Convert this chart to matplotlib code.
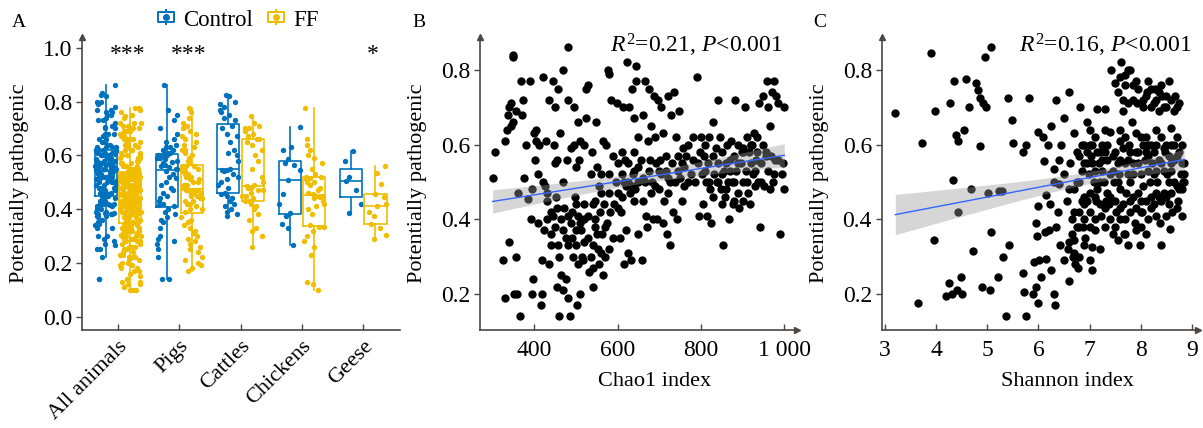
import matplotlib
matplotlib.use('Agg')
import matplotlib.pyplot as plt
import numpy as np
from matplotlib.path import Path
from matplotlib.lines import Line2D

# fonts ---------------------------------------------------------------
plt.rcParams['font.family'] = ['Liberation Serif', 'DejaVu Serif']
plt.rcParams['mathtext.fontset'] = 'custom'
plt.rcParams['mathtext.rm'] = 'Liberation Serif'
plt.rcParams['mathtext.it'] = 'Liberation Serif:italic'
plt.rcParams['font.size'] = 16

AXC = '#4d4545'
BLUE = '#0072BD'
GOLD = '#F0BD00'

# data panel A ---------------------------------------------------------
categories = ['All animals', 'Pigs', 'Cattles', 'Chickens', 'Geese']

pigs_ctrl = [0.86, 0.77, 0.75, 0.73, 0.70, 0.68, 0.66, 0.65, 0.64, 0.63, 0.63, 0.62, 0.62, 0.61, 0.61,
             0.605, 0.60, 0.60, 0.60, 0.59, 0.59, 0.585, 0.58, 0.575, 0.57, 0.565, 0.56, 0.555, 0.55, 0.55,
             0.54, 0.53, 0.52, 0.515, 0.50, 0.49, 0.48, 0.47, 0.46, 0.45, 0.44, 0.43, 0.42, 0.415, 0.41,
             0.40, 0.39, 0.38, 0.37, 0.36, 0.35, 0.33, 0.30, 0.29, 0.28, 0.27, 0.25, 0.22, 0.14, 0.14]
pigs_ff = [0.17, 0.18, 0.19, 0.20, 0.21, 0.22, 0.24, 0.25, 0.26, 0.27,
           0.28, 0.29, 0.30, 0.31, 0.32, 0.33, 0.34, 0.35, 0.36, 0.37,
           0.39, 0.40, 0.40, 0.41, 0.42, 0.42, 0.43, 0.43, 0.44, 0.44,
           0.45, 0.45, 0.46, 0.46, 0.46, 0.47, 0.47, 0.47, 0.47, 0.47,
           0.48, 0.48, 0.49, 0.49, 0.50, 0.50, 0.51, 0.51, 0.52, 0.52,
           0.53, 0.53, 0.54, 0.54, 0.55, 0.55, 0.56, 0.56, 0.56, 0.56,
           0.57, 0.58, 0.59, 0.60, 0.61, 0.62, 0.62, 0.63, 0.64, 0.65,
           0.66, 0.67, 0.68, 0.69, 0.70, 0.71, 0.72, 0.74, 0.76, 0.775]
cattle_ctrl = [0.375, 0.38, 0.39, 0.40, 0.41, 0.42, 0.43, 0.44, 0.45, 0.455,
               0.46, 0.48, 0.49, 0.50, 0.51, 0.52, 0.53, 0.54, 0.545, 0.545,
               0.55, 0.58, 0.60, 0.61, 0.62, 0.65, 0.67, 0.68, 0.70, 0.71,
               0.73, 0.74, 0.75, 0.76, 0.77, 0.78, 0.79, 0.80, 0.82, 0.825]
cattle_ff = [0.26, 0.30, 0.32, 0.33, 0.36, 0.38, 0.40, 0.41, 0.42, 0.43,
             0.43, 0.44, 0.45, 0.45, 0.46, 0.47, 0.47, 0.48, 0.48, 0.485,
             0.49, 0.50, 0.52, 0.55, 0.58, 0.60, 0.62, 0.64, 0.65, 0.66,
             0.66, 0.67, 0.68, 0.69, 0.69, 0.70, 0.70, 0.71, 0.72, 0.745]
chicken_ctrl = [0.265, 0.33, 0.345, 0.375, 0.385, 0.42, 0.455, 0.508, 0.545, 0.565,
                0.57, 0.585, 0.62, 0.63, 0.705]
chicken_ff = [0.10, 0.12, 0.13, 0.23, 0.26, 0.28, 0.30, 0.32, 0.335, 0.335,
              0.34, 0.38, 0.40, 0.41, 0.42, 0.43, 0.44, 0.445, 0.45, 0.45,
              0.455, 0.46, 0.47, 0.48, 0.49, 0.50, 0.50, 0.51, 0.515, 0.52,
              0.52, 0.53, 0.55, 0.57, 0.59, 0.60, 0.62, 0.64, 0.66, 0.775]
geese_ctrl = [0.385, 0.42, 0.47, 0.505, 0.52, 0.578, 0.617]
geese_ff = [0.29, 0.305, 0.33, 0.345, 0.375, 0.39, 0.41, 0.42, 0.445, 0.455, 0.495, 0.535, 0.56]
# samples from other animals, only in "All animals"
other_ctrl = [0.30, 0.34, 0.38, 0.45, 0.46, 0.47, 0.48, 0.49, 0.50, 0.50, 0.51, 0.52, 0.52, 0.53,
              0.53, 0.54, 0.54, 0.55, 0.55, 0.56, 0.56, 0.57, 0.57, 0.58, 0.58, 0.59, 0.60, 0.61,
              0.62, 0.63, 0.64, 0.66, 0.68, 0.72, 0.76, 0.80, 0.83, 0.48, 0.45, 0.25]
other_ff = [0.10, 0.10, 0.11, 0.12, 0.13, 0.14, 0.15, 0.16, 0.17, 0.18, 0.19, 0.20, 0.21, 0.22, 0.22,
            0.23, 0.24, 0.25, 0.26, 0.27, 0.28, 0.29, 0.30, 0.30, 0.31, 0.32, 0.32, 0.33, 0.34, 0.34,
            0.35, 0.35, 0.36, 0.36, 0.36, 0.37, 0.37, 0.37, 0.38, 0.38, 0.38, 0.39, 0.39, 0.39, 0.40,
            0.40, 0.40, 0.40, 0.41, 0.41, 0.41, 0.42, 0.42, 0.42, 0.42, 0.43, 0.43, 0.43, 0.43, 0.44,
            0.44, 0.44, 0.44, 0.44, 0.45, 0.46, 0.47, 0.48, 0.49, 0.50, 0.50, 0.51, 0.52, 0.52,
            0.53, 0.53, 0.535, 0.535, 0.55, 0.57, 0.59, 0.61, 0.63, 0.65, 0.67, 0.69, 0.70, 0.72,
            0.75, 0.77]

stars = [(0, '***'), (1, '***'), (4, '*')]

# data panel B (Chao1, potentially pathogenic) ---------------------------
chao1_pts = [
    (300, 0.51), (305, 0.58), (325, 0.29), (330, 0.19), (340, 0.34), (330, 0.61), (335, 0.64), (340, 0.70),
    (345, 0.71), (338, 0.68), (350, 0.66), (355, 0.69), (345, 0.65), (348, 0.84), (350, 0.835), (352, 0.20),
    (355, 0.30), (358, 0.20), (360, 0.47), (365, 0.14), (368, 0.77), (370, 0.68), (372, 0.72), (375, 0.51),
    (380, 0.60), (385, 0.455), (390, 0.77), (395, 0.48), (393, 0.40), (395, 0.20), (396, 0.24), (400, 0.63),
    (402, 0.56), (405, 0.64), (405, 0.61), (410, 0.39), (410, 0.52), (412, 0.60), (415, 0.17), (418, 0.29),
    (418, 0.20), (420, 0.78), (420, 0.50), (423, 0.37), (425, 0.49), (428, 0.61), (430, 0.47), (430, 0.45),
    (435, 0.28), (435, 0.72), (440, 0.36), (440, 0.42), (445, 0.41), (445, 0.77), (448, 0.60), (450, 0.70),
    (450, 0.55), (452, 0.46), (455, 0.56), (455, 0.22), (458, 0.33), (458, 0.75), (460, 0.14), (462, 0.63),
    (465, 0.40), (465, 0.25), (468, 0.21), (468, 0.50), (470, 0.80), (472, 0.43), (475, 0.35), (475, 0.24),
    (478, 0.56), (480, 0.72), (482, 0.86), (482, 0.19), (485, 0.14), (488, 0.39), (488, 0.59), (490, 0.42),
    (492, 0.30), (495, 0.60), (495, 0.70), (498, 0.46), (500, 0.33), (500, 0.54), (502, 0.17), (505, 0.66),
    (505, 0.41), (508, 0.56), (510, 0.20), (510, 0.61), (512, 0.37), (515, 0.30), (518, 0.29), (520, 0.44),
    (520, 0.60), (525, 0.75), (525, 0.67), (528, 0.35), (530, 0.76), (532, 0.26), (535, 0.52), (538, 0.58),
    (540, 0.22), (542, 0.27), (545, 0.45), (545, 0.38), (548, 0.66), (550, 0.54), (552, 0.32), (555, 0.28),
    (555, 0.49), (558, 0.42), (560, 0.52), (562, 0.36), (565, 0.25), (565, 0.61), (568, 0.44), (570, 0.30),
    (572, 0.60), (575, 0.39), (578, 0.80), (580, 0.79), (580, 0.47), (582, 0.42), (585, 0.72), (588, 0.57),
    (590, 0.35), (592, 0.44), (595, 0.50), (598, 0.71), (600, 0.47), (600, 0.55), (605, 0.35), (608, 0.42),
    (610, 0.46), (612, 0.70), (615, 0.28), (615, 0.50), (618, 0.56), (620, 0.37), (622, 0.82), (625, 0.31),
    (625, 0.50), (628, 0.70), (630, 0.47), (632, 0.29), (635, 0.75), (638, 0.52), (640, 0.67), (642, 0.48),
    (645, 0.81), (645, 0.77), (648, 0.62), (650, 0.36), (650, 0.50), (655, 0.56), (658, 0.29), (660, 0.45),
    (662, 0.68), (665, 0.77), (668, 0.41), (670, 0.38), (672, 0.61), (675, 0.75), (678, 0.56), (680, 0.65),
    (682, 0.50), (685, 0.40), (688, 0.73), (690, 0.62), (692, 0.55), (695, 0.40), (698, 0.72), (700, 0.48),
    (702, 0.56), (705, 0.70), (708, 0.39), (710, 0.63), (712, 0.45), (715, 0.53), (718, 0.36), (720, 0.73),
    (722, 0.47), (725, 0.33), (728, 0.68), (730, 0.55), (732, 0.42), (735, 0.74), (738, 0.50), (740, 0.62),
    (742, 0.40), (745, 0.57), (748, 0.69), (750, 0.51), (755, 0.45), (758, 0.59), (760, 0.54), (765, 0.57),
    (770, 0.60), (775, 0.52), (780, 0.62), (785, 0.50), (790, 0.78), (792, 0.55), (795, 0.41), (798, 0.58),
    (800, 0.62), (802, 0.52), (805, 0.44), (808, 0.57), (810, 0.60), (812, 0.50), (815, 0.41), (818, 0.55),
    (820, 0.62), (822, 0.48), (825, 0.39), (828, 0.57), (830, 0.66), (832, 0.52), (835, 0.59), (838, 0.50),
    (840, 0.72), (842, 0.55), (845, 0.62), (848, 0.48), (850, 0.58), (852, 0.33), (855, 0.53), (858, 0.46),
    (860, 0.55), (862, 0.60), (865, 0.50), (868, 0.40), (870, 0.56), (872, 0.61), (875, 0.50), (878, 0.44),
    (880, 0.57), (882, 0.72), (885, 0.53), (888, 0.47), (890, 0.60), (892, 0.43), (895, 0.55), (898, 0.58),
    (900, 0.50), (902, 0.45), (905, 0.70), (908, 0.53), (910, 0.62), (912, 0.47), (915, 0.58), (918, 0.44),
    (920, 0.55), (922, 0.60), (925, 0.52), (928, 0.63), (930, 0.49), (932, 0.56), (935, 0.62), (938, 0.50),
    (940, 0.71), (942, 0.38), (945, 0.55), (948, 0.60), (950, 0.73), (952, 0.49), (955, 0.57), (958, 0.77),
    (960, 0.70), (962, 0.53), (965, 0.65), (968, 0.57), (970, 0.74), (972, 0.50), (975, 0.77), (978, 0.56),
    (980, 0.73), (985, 0.71), (990, 0.36), (995, 0.52), (998, 0.55), (1000, 0.48), (1000, 0.70),
    (620, 0.49), (640, 0.53), (660, 0.51), (680, 0.47), (700, 0.53), (720, 0.51), (760, 0.49), (780, 0.56),
    (640, 0.45), (600, 0.43), (580, 0.52), (560, 0.47), (540, 0.33), (520, 0.40), (500, 0.37), (480, 0.33),
    (440, 0.33), (450, 0.38), (460, 0.30), (470, 0.37), (480, 0.41), (490, 0.35), (500, 0.44), (510, 0.39),
    (520, 0.34), (530, 0.41), (540, 0.44), (550, 0.36), (560, 0.31), (570, 0.38), (580, 0.32), (430, 0.40),
    (455, 0.43), (505, 0.28), (535, 0.30), (545, 0.40),
    (610, 0.52), (625, 0.55), (635, 0.49), (650, 0.54), (665, 0.50), (675, 0.53), (690, 0.49), (705, 0.52),
    (715, 0.57), (725, 0.50), (745, 0.53), (755, 0.55), (770, 0.50), (640, 0.58), (610, 0.58),
    (810, 0.53), (820, 0.50), (830, 0.46), (840, 0.50), (850, 0.52), (860, 0.48), (870, 0.53), (880, 0.50),
    (890, 0.55), (900, 0.58), (910, 0.50), (920, 0.60), (930, 0.53), (945, 0.50), (955, 0.58), (965, 0.48),
    (975, 0.52), (985, 0.56), (880, 0.45), (900, 0.59), (920, 0.60), (850, 0.44), (935, 0.58),
]
chao1_xticklabels = ['400', '600', '800', '1 000']

# data panel C (Shannon, potentially pathogenic) -------------------------
shannon_pts = [
    (3.2, 0.685), (3.65, 0.175), (3.72, 0.605), (3.9, 0.845), (3.95, 0.345), (3.98, 0.69), (4.2, 0.195),
    (4.25, 0.23), (4.28, 0.71), (4.3, 0.20), (4.32, 0.505), (4.35, 0.77), (4.38, 0.625), (4.4, 0.21),
    (4.42, 0.61), (4.42, 0.42), (4.48, 0.245), (4.5, 0.20), (4.55, 0.64), (4.58, 0.775), (4.65, 0.70),
    (4.68, 0.48), (4.72, 0.315), (4.78, 0.765), (4.82, 0.745), (4.85, 0.725), (4.85, 0.595), (4.9, 0.22),
    (4.92, 0.71), (4.95, 0.835), (4.98, 0.70), (5.02, 0.47), (5.05, 0.21), (5.07, 0.86), (5.07, 0.365),
    (5.2, 0.245), (5.22, 0.475), (5.28, 0.475), (5.3, 0.30), (5.36, 0.14), (5.4, 0.725), (5.42, 0.33),
    (5.48, 0.665), (5.5, 0.605), (5.7, 0.58), (5.7, 0.255), (5.72, 0.205), (5.75, 0.60), (5.76, 0.14),
    (5.82, 0.725), (5.9, 0.20), (5.92, 0.285), (5.95, 0.39), (5.95, 0.22), (5.98, 0.355), (6.0, 0.175),
    (6.0, 0.435), (6.0, 0.635), (6.02, 0.29), (6.05, 0.245), (6.08, 0.62), (6.1, 0.555), (6.12, 0.365),
    (6.15, 0.465), (6.15, 0.295), (6.18, 0.60), (6.2, 0.37), (6.22, 0.44), (6.25, 0.265), (6.25, 0.65),
    (6.3, 0.535), (6.3, 0.20), (6.32, 0.17), (6.35, 0.38), (6.35, 0.72), (6.38, 0.42), (6.4, 0.495),
    (6.42, 0.33), (6.45, 0.60), (6.5, 0.29), (6.5, 0.67), (6.55, 0.45), (6.58, 0.32), (6.6, 0.235),
    (6.6, 0.74), (6.62, 0.55), (6.65, 0.40), (6.68, 0.30), (6.7, 0.345), (6.7, 0.63), (6.72, 0.28),
    (6.75, 0.50), (6.78, 0.27), (6.8, 0.57), (6.8, 0.42), (6.82, 0.70), (6.85, 0.53), (6.88, 0.38),
    (6.9, 0.60), (6.9, 0.46), (6.92, 0.35), (6.95, 0.66), (6.98, 0.52), (7.0, 0.42), (7.0, 0.29),
    (7.02, 0.57), (7.05, 0.265), (7.05, 0.325), (7.08, 0.50), (7.1, 0.37), (7.1, 0.62), (7.12, 0.45),
    (7.15, 0.695), (7.18, 0.55), (7.2, 0.32), (7.22, 0.41), (7.25, 0.60), (7.28, 0.50), (7.3, 0.695),
    (7.32, 0.45), (7.35, 0.56), (7.38, 0.44), (7.4, 0.635), (7.42, 0.80), (7.45, 0.36), (7.48, 0.50),
    (7.5, 0.765), (7.5, 0.58), (7.52, 0.42), (7.55, 0.345), (7.55, 0.74), (7.58, 0.52), (7.6, 0.61),
    (7.6, 0.40), (7.62, 0.82), (7.65, 0.69), (7.68, 0.36), (7.7, 0.55), (7.7, 0.785), (7.72, 0.47),
    (7.75, 0.71), (7.75, 0.33), (7.78, 0.60), (7.8, 0.80), (7.8, 0.42), (7.82, 0.66), (7.85, 0.52),
    (7.85, 0.76), (7.88, 0.39), (7.9, 0.58), (7.92, 0.71), (7.95, 0.47), (7.98, 0.33), (8.0, 0.62),
    (8.0, 0.52), (8.02, 0.42), (8.05, 0.72), (8.08, 0.56), (8.1, 0.45), (8.12, 0.74), (8.15, 0.60),
    (8.15, 0.40), (8.18, 0.50), (8.2, 0.70), (8.22, 0.55), (8.25, 0.44), (8.28, 0.75), (8.3, 0.60),
    (8.32, 0.50), (8.35, 0.69), (8.38, 0.39), (8.4, 0.33), (8.4, 0.55), (8.42, 0.73), (8.45, 0.47),
    (8.48, 0.58), (8.5, 0.70), (8.52, 0.52), (8.55, 0.77), (8.55, 0.44), (8.58, 0.375), (8.6, 0.645),
    (8.6, 0.55), (8.62, 0.42), (8.65, 0.50), (8.68, 0.73), (8.7, 0.57), (8.72, 0.45), (8.75, 0.71),
    (8.78, 0.52), (8.8, 0.41), (8.82, 0.50), (8.85, 0.52), (8.7, 0.49), (8.6, 0.53),
    (6.7, 0.48), (6.75, 0.58), (6.85, 0.45), (6.95, 0.55), (7.05, 0.60), (7.15, 0.48), (7.25, 0.53),
    (7.35, 0.47), (7.45, 0.57), (7.55, 0.50), (7.65, 0.44), (7.75, 0.56), (7.85, 0.46), (7.95, 0.55),
    (8.05, 0.49), (8.15, 0.53), (8.25, 0.58), (8.35, 0.46), (8.45, 0.53), (8.55, 0.50), (8.65, 0.56),
    (8.75, 0.48), (6.9, 0.40), (7.0, 0.47), (7.1, 0.53), (7.2, 0.58), (7.3, 0.43), (7.4, 0.40),
    (7.5, 0.45), (7.6, 0.56), (7.7, 0.40), (7.8, 0.50), (7.9, 0.43), (8.0, 0.45), (8.1, 0.58),
    (8.2, 0.46), (8.3, 0.41), (8.4, 0.62), (8.5, 0.46), (6.8, 0.50), (6.9, 0.55), (7.0, 0.60),
    (7.1, 0.40), (7.2, 0.50), (7.3, 0.58), (7.4, 0.52), (7.6, 0.48), (7.7, 0.62), (7.8, 0.58),
    (7.9, 0.63), (8.0, 0.38), (8.1, 0.62), (8.2, 0.60), (8.3, 0.53), (6.4, 0.56), (6.5, 0.52),
    (6.6, 0.48), (6.3, 0.50), (7.0, 0.64), (7.3, 0.64), (7.6, 0.64), (8.3, 0.64), (6.95, 0.45),
    (7.6, 0.78), (7.7, 0.76), (7.75, 0.80), (7.85, 0.72), (7.95, 0.75), (8.05, 0.70), (8.1, 0.73),
    (8.2, 0.75), (8.25, 0.71), (8.3, 0.72), (8.35, 0.74), (8.45, 0.70), (8.5, 0.73), (8.6, 0.72),
    (8.65, 0.69), (8.7, 0.70), (8.4, 0.76), (8.15, 0.77), (7.65, 0.72), (7.9, 0.77),
    (8.8, 0.55), (8.85, 0.50), (8.75, 0.58), (8.65, 0.60), (8.55, 0.57), (8.45, 0.59), (8.35, 0.56),
    (8.25, 0.52), (8.15, 0.57), (8.05, 0.60), (7.95, 0.58), (7.85, 0.55), (7.75, 0.52), (7.65, 0.59),
    (7.55, 0.55), (7.45, 0.53), (7.35, 0.60), (7.25, 0.56), (7.15, 0.58), (7.05, 0.55), (6.95, 0.58),
    (6.85, 0.60),
    (6.7, 0.42), (6.8, 0.38), (6.9, 0.44), (7.0, 0.38), (7.1, 0.46), (7.2, 0.44), (7.3, 0.38),
    (7.4, 0.46), (7.5, 0.38), (7.6, 0.43), (7.7, 0.36), (7.8, 0.45), (7.9, 0.37), (8.0, 0.42),
    (8.1, 0.36), (8.2, 0.43), (8.3, 0.47), (8.4, 0.45), (8.5, 0.41), (8.6, 0.47), (8.7, 0.43),
    (6.6, 0.34), (6.7, 0.31), (6.8, 0.30), (6.9, 0.33), (6.65, 0.36), (6.75, 0.38),
    (8.8, 0.60), (8.7, 0.62), (8.6, 0.60), (8.5, 0.60), (8.85, 0.55), (8.8, 0.48),
]

stat_b = r'$R^2$=0.21, $P$<0.001'
stat_c = r'$R^2$=0.16, $P$<0.001'


# helpers --------------------------------------------------------------
def style_axes(ax, x_arrow=True):
    for s in ['top', 'right']:
        ax.spines[s].set_visible(False)
    for s in ['left', 'bottom']:
        ax.spines[s].set_color(AXC)
        ax.spines[s].set_linewidth(1.2)
    ax.tick_params(axis='y', direction='out', length=4, width=1, color=AXC, pad=3, labelsize=17)
    ax.tick_params(axis='x', direction='in', length=4, width=1, color=AXC, pad=7, labelsize=17)
    ax.plot([0], [1], marker='^', ms=5, color=AXC, transform=ax.transAxes, clip_on=False)
    if x_arrow:
        ax.plot([1], [0], marker='>', ms=5, color=AXC, transform=ax.transAxes, clip_on=False)


def fit_band(x, y):
    xs = np.linspace(x.min(), x.max(), 100)
    b, a = np.polyfit(x, y, 1)
    n = len(x)
    resid = y - (a + b * x)
    s = np.sqrt(np.sum(resid ** 2) / (n - 2))
    sxx = np.sum((x - x.mean()) ** 2)
    se = s * np.sqrt(1 / n + (xs - x.mean()) ** 2 / sxx)
    fit = a + b * xs
    return xs, fit, fit - 1.97 * se, fit + 1.97 * se


def scatter_panel(ax, pts, stat_text, stat_x):
    arr = np.array(pts)
    x, y = arr[:, 0], arr[:, 1]
    ax.scatter(x, y, s=36, color='black', linewidths=0, zorder=2)
    xs, fit, lo, hi = fit_band(x, y)
    ax.fill_between(xs, lo, hi, color='#999999', alpha=0.4, lw=0, zorder=3)
    ax.plot(xs, fit, color='#3366FF', lw=1, zorder=4)
    ax.set_ylim(0.1036, 0.888)
    ax.set_yticks([0.2, 0.4, 0.6, 0.8])
    ax.set_ylabel('Potentially pathogenic', fontsize=16)
    ax.yaxis.set_label_coords(-0.167, 0.5)
    ax.text(stat_x, 0.973, stat_text, transform=ax.transAxes, ha='right', va='center', fontsize=17)
    style_axes(ax)


# figure ---------------------------------------------------------------
W, H = 1203, 428
fig = plt.figure(figsize=(W / 100, H / 100), dpi=100)
axA = fig.add_axes([82 / W, 1 - 330 / H, 318 / W, 293 / H])
axB = fig.add_axes([480 / W, 1 - 330 / H, 317 / W, 293 / H])
axC = fig.add_axes([881.7 / W, 1 - 330 / H, 316.3 / W, 293 / H])

# panel A
ctrl_groups = [pigs_ctrl + cattle_ctrl + chicken_ctrl + geese_ctrl + other_ctrl,
               pigs_ctrl, cattle_ctrl, chicken_ctrl, geese_ctrl]
ff_groups = [pigs_ff + cattle_ff + chicken_ff + geese_ff + other_ff,
             pigs_ff, cattle_ff, chicken_ff, geese_ff]
pos = np.arange(len(categories))
for groups, off, col in [(ctrl_groups, -0.2, BLUE), (ff_groups, 0.2, GOLD)]:
    for i, vals in enumerate(groups):
        n = len(vals)
        # scattered horizontal offsets for the strip points
        jit = ((np.sin((np.arange(n) + 7 * i + 1) * 12.9898) * 43758.5453) % 1 - 0.5) * 0.34
        axA.scatter(pos[i] + off + jit, vals, s=15, color=col, linewidths=0, zorder=2)
    axA.boxplot(groups, positions=pos + off, widths=0.36, showfliers=False, showcaps=False,
                manage_ticks=False, zorder=3,
                boxprops=dict(color=col, lw=1.2), whiskerprops=dict(color=col, lw=1.2),
                medianprops=dict(color=col, lw=1.2))

for i, s in stars:
    axA.text(pos[i] + 0.15, 0.975, s, ha='center', va='center', fontsize=17)

axA.set_xlim(-0.588, 4.6)
axA.set_ylim(-0.05, 1.04)
axA.set_yticks([0.0, 0.2, 0.4, 0.6, 0.8, 1.0])
axA.set_yticklabels(['0.0', '0.2', '0.4', '0.6', '0.8', '1.0'])
axA.set_xticks(pos)
axA.set_xticklabels(categories, rotation=45, ha='right', rotation_mode='anchor')
axA.set_ylabel('Potentially pathogenic', fontsize=16)
axA.yaxis.set_label_coords(-0.167, 0.5)
style_axes(axA, x_arrow=False)
axA.tick_params(axis='x', pad=5, labelsize=16)

# legend
box_marker = Path([(-1, -0.6), (1, -0.6), (1, 0.6), (-1, 0.6), (-1, -0.6), (0, 0.6), (0, 1), (0, -0.6), (0, -1)],
                  [Path.MOVETO, Path.LINETO, Path.LINETO, Path.LINETO, Path.CLOSEPOLY,
                   Path.MOVETO, Path.LINETO, Path.MOVETO, Path.LINETO])
handles = []
for col in [BLUE, GOLD]:
    h1 = Line2D([], [], ls='', marker=box_marker, ms=12, mfc='none', mec=col, mew=1.4)
    h2 = Line2D([], [], ls='', marker='o', ms=4, color=col)
    handles.append((h1, h2))
fig.legend(handles, ['Control', 'FF'], loc='center', bbox_to_anchor=(238 / W, 1 - 20 / H), ncol=2,
           frameon=False, fontsize=16.5, handlelength=0.8, handletextpad=0.35, columnspacing=0.6,
           borderpad=0, borderaxespad=0)

# panel B
scatter_panel(axB, chao1_pts, stat_b, 0.956)
axB.set_xlim(269.7, 1030.5)
axB.set_xticks([400, 600, 800, 1000])
axB.set_xticklabels(chao1_xticklabels)
axB.set_xlabel('Chao1 index', fontsize=16)
axB.xaxis.set_label_coords(0.552, -0.143)

# panel C
scatter_panel(axC, shannon_pts, stat_c, 0.981)
axC.set_xlim(2.935, 9.12)
axC.set_xticks([3, 4, 5, 6, 7, 8, 9])
axC.set_xlabel('Shannon index', fontsize=16)
axC.xaxis.set_label_coords(0.587, -0.143)

for lab, xp in [('A', 12), ('B', 412), ('C', 813)]:
    fig.text(xp / W, 1 - 14 / H, lab, ha='left', va='top', fontsize=14)

fig.savefig('out.png', dpi=100)
